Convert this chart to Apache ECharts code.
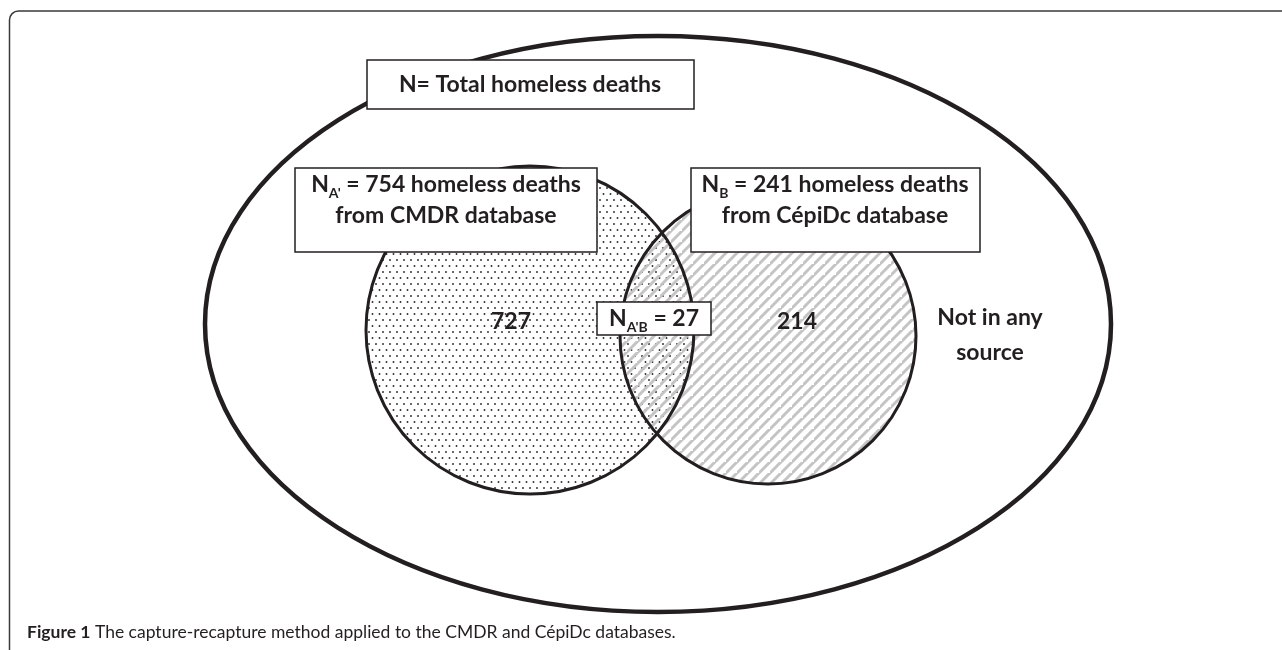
<!DOCTYPE html>
<html><head><meta charset="utf-8">
<script src="https://cdn.jsdelivr.net/npm/echarts@6/dist/echarts.min.js"></script>
<style>html,body{margin:0;padding:0;background:#fff}#c{width:1282px;height:650px}</style>
</head><body><div id="c"></div>
<script>
// ---------- data ----------
const setNames = ['CMDR', 'CépiDc'];
const setSubscripts = ["A'", 'B'];
const setTotals = [754, 241];
const setOnlyCounts = [727, 214];
const overlapSubscript = "A'B";
const overlapCount = 27;
const universeLabel = 'N= Total homeless deaths';
const outsideLabel = ['Not in any', 'source'];
const captionBold = 'Figure 1';
const captionText = ' The capture-recapture method applied to the CMDR and CépiDc databases.';

// ---------- layout (diagram units) ----------
const universeShape = { cx: 658, cy: 324, rx: 453, ry: 288 };
const setCircles = [{ cx: 530, cy: 330, r: 164 }, { cx: 768, cy: 336, r: 148 }];
const universeBox = { x: 367, y: 60, w: 327, h: 49, tx: 530, ty: 85 };
const setBoxes = [
  { x: 295, y: 168, w: 302, h: 84, tx: 446, ty1: 185, ty2: 216 },
  { x: 691, y: 168, w: 289, h: 84, tx: 835, ty1: 185, ty2: 216 }
];
const overlapBox = { x: 597, y: 302, w: 114, h: 33, tx: 654, ty: 319 };
const onlyPos = [{ x: 511, y: 322 }, { x: 797, y: 322 }];
const outsidePos = { x: 990, y1: 318, y2: 353 };

const INK = '#231f20';
const FONT = 'Lato';
const FS = 23;

function dotPattern() {
  const c = document.createElement('canvas'); c.width = 7; c.height = 12;
  const g = c.getContext('2d');
  g.fillStyle = '#fff'; g.fillRect(0, 0, 7, 12);
  g.fillStyle = '#2b2b2b';
  [[1.5, 2], [5, 8]].forEach(p => { g.beginPath(); g.arc(p[0], p[1], 0.95, 0, Math.PI * 2); g.fill(); });
  return c;
}
function stripePattern() {
  const s = 11;
  const c = document.createElement('canvas'); c.width = s; c.height = s;
  const g = c.getContext('2d');
  g.strokeStyle = '#c4c4c4'; g.lineWidth = 3;
  [[-1, s + 1, s + 1, -1], [-s - 1, s + 1, 1, -1], [s - 1, s * 2 + 1, s * 2 + 1, s - 1]].forEach(l => {
    g.beginPath(); g.moveTo(l[0], l[1]); g.lineTo(l[2], l[3]); g.stroke();
  });
  return c;
}
const fills = [{ image: dotPattern(), repeat: 'repeat' }, { image: stripePattern(), repeat: 'repeat' }];

const rich = {
  m: { fontFamily: FONT, fontWeight: 'bold', fontSize: FS, fill: INK, lineHeight: 30 },
  s: { fontFamily: FONT, fontWeight: 'bold', fontSize: 14, fill: INK, lineHeight: 15, verticalAlign: 'bottom' }
};
function subLabel(sub, rest) { return '{m|N}{s|' + sub + '}{m|' + rest + '}'; }

function P(api, x, y) { return api.coord([x, y]); }
function S(api, w, h) { return api.size([w, h]); }

function boxEl(api, b) {
  const p = P(api, b.x, b.y), sz = S(api, b.w, b.h);
  return { type: 'rect', shape: { x: p[0], y: p[1], width: sz[0], height: sz[1] },
    style: { fill: '#fff', stroke: INK, lineWidth: 1.5 } };
}
function textEl(api, x, y, text, extra) {
  const p = P(api, x, y);
  return { type: 'text', x: p[0], y: p[1], style: Object.assign({
    text: text, fontFamily: FONT, fontWeight: 'bold', fontSize: FS, fill: INK,
    align: 'center', verticalAlign: 'middle', rich: rich }, extra || {}) };
}

const chart = echarts.init(document.getElementById('c'), null, { renderer: 'canvas' });
chart.setOption({
  animation: false,
  backgroundColor: '#fff',
  grid: { left: 0, right: 0, top: 0, bottom: 0 },
  xAxis: { type: 'value', min: 0, max: 1282, show: false },
  yAxis: { type: 'value', min: 0, max: 650, inverse: true, show: false },
  title: {
    text: '{b|' + captionBold + '}{r|' + captionText + '}',
    left: 27, top: 623, padding: 0,
    textStyle: { rich: {
      b: { fontFamily: FONT, fontWeight: 'bold', fontSize: 17.5, color: INK },
      r: { fontFamily: FONT, fontWeight: 'normal', fontSize: 17.5, color: INK }
    } }
  },
  graphic: [{
    type: 'rect', shape: { x: 9.5, y: 11, width: 1400, height: 800, r: 9 },
    style: { fill: 'none', stroke: '#3a3a3a', lineWidth: 1.5 }, z: -1
  }],
  series: [
    { // universe ellipse
      type: 'custom', coordinateSystem: 'cartesian2d', z: 1, silent: true,
      data: [[0]],
      renderItem: function (params, api) {
        const c = P(api, universeShape.cx, universeShape.cy);
        const r = S(api, universeShape.rx, universeShape.ry);
        return { type: 'ellipse', shape: { cx: c[0], cy: c[1], rx: r[0], ry: r[1] },
          style: { fill: 'none', stroke: INK, lineWidth: 4.5 } };
      }
    },
    { // set fills
      type: 'custom', coordinateSystem: 'cartesian2d', z: 2, silent: true,
      data: setNames.map((n, i) => [i]),
      renderItem: function (params, api) {
        const i = params.dataIndex, s = setCircles[i];
        const c = P(api, s.cx, s.cy), r = S(api, s.r, s.r);
        return { type: 'circle', shape: { cx: c[0], cy: c[1], r: r[0] }, style: { fill: fills[i], stroke: 'none' } };
      }
    },
    { // set outlines
      type: 'custom', coordinateSystem: 'cartesian2d', z: 3, silent: true,
      data: setNames.map((n, i) => [i]),
      renderItem: function (params, api) {
        const i = params.dataIndex, s = setCircles[i];
        const c = P(api, s.cx, s.cy), r = S(api, s.r, s.r);
        return { type: 'circle', shape: { cx: c[0], cy: c[1], r: r[0] }, style: { fill: 'none', stroke: INK, lineWidth: 3 } };
      }
    },
    { // counts only in one source + outside label
      type: 'custom', coordinateSystem: 'cartesian2d', z: 4, silent: true,
      data: setOnlyCounts.map((v, i) => [i, v]),
      renderItem: function (params, api) {
        const i = params.dataIndex;
        const kids = [textEl(api, onlyPos[i].x, onlyPos[i].y, String(setOnlyCounts[i]))];
        if (i === 1) {
          kids.push(textEl(api, outsidePos.x, outsidePos.y1, outsideLabel[0]));
          kids.push(textEl(api, outsidePos.x, outsidePos.y2, outsideLabel[1]));
        }
        return { type: 'group', children: kids };
      }
    },
    { // set label boxes
      type: 'custom', coordinateSystem: 'cartesian2d', z: 5, silent: true,
      data: setTotals.map((v, i) => [i, v]),
      renderItem: function (params, api) {
        const i = params.dataIndex, b = setBoxes[i];
        return { type: 'group', children: [
          boxEl(api, b),
          textEl(api, b.tx, b.ty1, subLabel(setSubscripts[i], ' = ' + setTotals[i] + ' homeless deaths')),
          textEl(api, b.tx, b.ty2, 'from ' + setNames[i] + ' database')
        ] };
      }
    },
    { // overlap + universe label boxes
      type: 'custom', coordinateSystem: 'cartesian2d', z: 6, silent: true,
      data: [[0, overlapCount]],
      renderItem: function (params, api) {
        return { type: 'group', children: [
          boxEl(api, overlapBox),
          textEl(api, overlapBox.tx, overlapBox.ty, subLabel(overlapSubscript, ' = ' + overlapCount)),
          boxEl(api, universeBox),
          textEl(api, universeBox.tx, universeBox.ty, universeLabel)
        ] };
      }
    }
  ]
});
</script>
</body></html>
